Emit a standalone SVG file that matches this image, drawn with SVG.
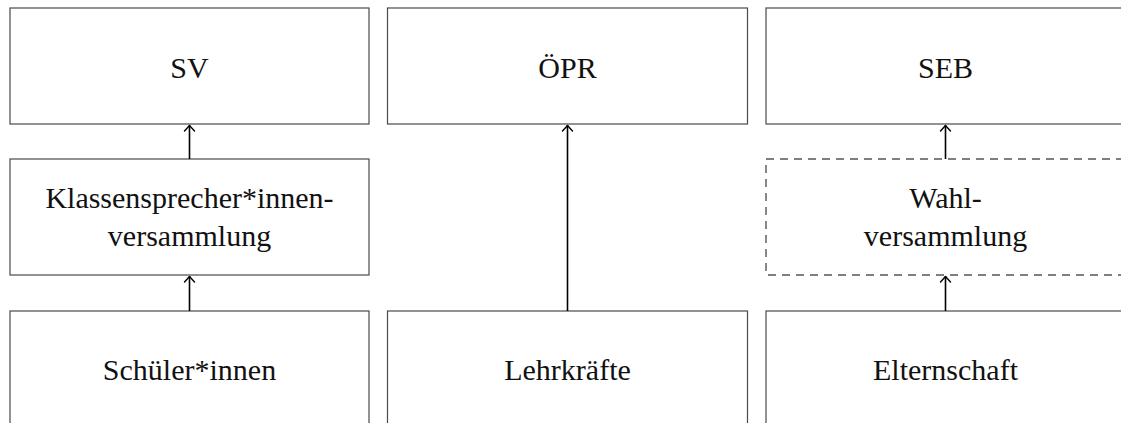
<svg xmlns="http://www.w3.org/2000/svg" width="1121" height="423" viewBox="0 0 1121 423">
<style>
.box{fill:#fff;stroke:#4a4a4a;stroke-width:1.2}
.dash{stroke-dasharray:8 6;stroke:#555;stroke-width:1.4}
.lbl{font-family:'Liberation Serif','Times New Roman',serif;font-size:30px;fill:#111;text-anchor:middle}
.edge{stroke:#000;stroke-width:1.6;fill:none}
.head{stroke:#000;stroke-width:1.4;fill:none;stroke-linecap:round;stroke-linejoin:round}
</style>
<rect width="1121" height="423" fill="#fff"/>
<g id="sv"><rect class="box" x="10" y="8" width="359" height="116"/><text class="lbl" x="189.5" y="78">SV</text></g>
<g id="ksv"><rect class="box" x="10" y="159" width="359" height="116"/><text class="lbl" x="189.5" y="208">Klassensprecher*innen-</text><text class="lbl" x="189.5" y="246">versammlung</text></g>
<g id="schueler"><rect class="box" x="10" y="311" width="359" height="130"/><text class="lbl" x="189.5" y="380">Schüler*innen</text></g>
<g id="opr"><rect class="box" x="387.5" y="8" width="360" height="116"/><text class="lbl" x="567.5" y="78">ÖPR</text></g>
<g id="lehrkraefte"><rect class="box" x="387.5" y="311" width="360" height="130"/><text class="lbl" x="567.5" y="380">Lehrkräfte</text></g>
<g id="seb"><rect class="box" x="766" y="8" width="360" height="116"/><text class="lbl" x="945.5" y="78">SEB</text></g>
<g id="wahl"><rect class="box dash" x="766" y="159" width="360" height="116"/><text class="lbl" x="945.5" y="208">Wahl-</text><text class="lbl" x="945.5" y="246">versammlung</text></g>
<g id="eltern"><rect class="box" x="766" y="311" width="360" height="130"/><text class="lbl" x="945.5" y="380">Elternschaft</text></g>
<g id="connectors">
<line class="edge" x1="189.5" y1="159" x2="189.5" y2="125"/><path class="head" d="M184.5 131 L189.5 125.5 L194.5 131"/>
<line class="edge" x1="189.5" y1="311" x2="189.5" y2="276"/><path class="head" d="M184.5 282 L189.5 276.5 L194.5 282"/>
<line class="edge" x1="567.5" y1="311" x2="567.5" y2="125"/><path class="head" d="M562.5 131 L567.5 125.5 L572.5 131"/>
<line class="edge" x1="945.5" y1="159" x2="945.5" y2="125"/><path class="head" d="M940.5 131 L945.5 125.5 L950.5 131"/>
<line class="edge" x1="945.5" y1="311" x2="945.5" y2="276"/><path class="head" d="M940.5 282 L945.5 276.5 L950.5 282"/>
</g>
</svg>
